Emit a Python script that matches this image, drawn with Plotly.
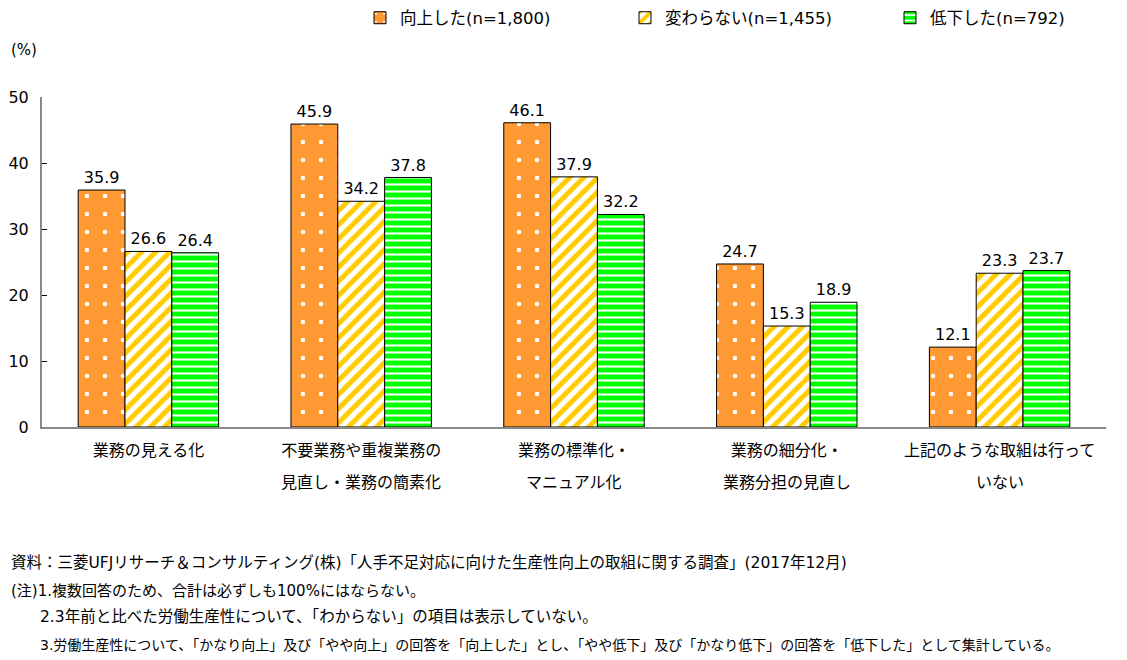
import plotly.graph_objects as go

categories = ["業務の見える化", "不要業務や重複業務の見直し・業務の簡素化", "業務の標準化・マニュアル化",
              "業務の細分化・業務分担の見直し", "上記のような取組は行っていない"]
label_line1 = ["業務の見える化", "不要業務や重複業務の", "業務の標準化・", "業務の細分化・", "上記のような取組は行って"]
label_line2 = ["", "見直し・業務の簡素化", "マニュアル化", "業務分担の見直し", "いない"]
series_names = ["向上した(n=1,800)", "変わらない(n=1,455)", "低下した(n=792)"]
improved = [35.9, 45.9, 46.1, 24.7, 12.1]
unchanged = [26.6, 34.2, 37.9, 15.3, 23.3]
declined = [26.4, 37.8, 32.2, 18.9, 23.7]
y_ticks = [0, 10, 20, 30, 40, 50]

notes = [
    "資料：三菱UFJリサーチ＆コンサルティング(株)「人手不足対応に向けた生産性向上の取組に関する調査」(2017年12月)",
    "(注)1.複数回答のため、合計は必ずしも100%にはならない。",
    "2.3年前と比べた労働生産性について、「わからない」の項目は表示していない。",
    "3.労働生産性について、「かなり向上」及び「やや向上」の回答を「向上した」とし、「やや低下」及び「かなり低下」の回答を「低下した」として集計している。",
]

FONT = "'DejaVu Sans', 'Noto Sans CJK JP', sans-serif"

styles = [
    dict(bg="#FF9933", fg="#FFFFFF", shape=".", size=18, solidity=0.05),
    dict(bg="#FFFFFF", fg="#FFCC00", shape="/", size=10, solidity=0.5),
    dict(bg="#00FF00", fg="#FFFFFF", shape="-", size=7, solidity=0.3),
]

fig = go.Figure()
for name, vals, st in zip(series_names, [improved, unchanged, declined], styles):
    fig.add_trace(go.Bar(
        name=name, x=categories, y=vals,
        text=[f"{v:.1f}" for v in vals], textposition="outside",
        textfont=dict(size=16, color="#000000", family=FONT),
        cliponaxis=False,
        marker=dict(color=st["bg"], line=dict(color="#000000", width=1),
                    pattern=dict(shape=st["shape"], fillmode="replace", bgcolor=st["bg"],
                                 fgcolor=st["fg"], size=st["size"], solidity=st["solidity"])),
    ))

# page offset (body margin) of 8px is compensated in the margins
fig.update_layout(
    width=1127, height=660,
    margin=dict(l=34, r=29, t=89, b=241, autoexpand=False),
    paper_bgcolor="white", plot_bgcolor="white",
    barmode="group", bargap=0.34, bargroupgap=0,
    font=dict(family=FONT, size=15, color="#000000"),
    showlegend=True,
    legend=dict(orientation="h", x=(360 - 8) / 1127, y=1 - (18 - 8) / 660, xref="container", yref="container",
                xanchor="left", yanchor="middle",
                font=dict(size=16.5), traceorder="normal", itemwidth=30,
                entrywidth=220, entrywidthmode="pixels"),
    xaxis=dict(type="category", categoryarray=categories, range=[-0.5, 4.5],
               tickvals=categories, ticktext=label_line1,
               showline=True, linecolor="#888888", linewidth=2, ticks="", automargin=False,
               tickfont=dict(size=16), showgrid=False, ticklabelstandoff=8),
    yaxis=dict(range=[0, 50], tickvals=y_ticks, showline=True, linecolor="#888888", linewidth=2,
               ticks="inside", ticklen=5, tickcolor="#000000", tickwidth=1, showgrid=False, zeroline=False,
               tickfont=dict(size=16), automargin=False, ticklabelstandoff=8),
)

# second line of the category labels
for cat, l2 in zip(categories, label_line2):
    if l2:
        fig.add_annotation(text=l2, xref="x", yref="paper", x=cat, y=(427 - 482) / 330,
                           xanchor="center", yanchor="middle", showarrow=False,
                           font=dict(size=16))

fig.add_annotation(text="(%)", xref="paper", yref="paper", x=(9 - 42) / 1064, y=(427 - 50) / 330,
                   xanchor="left", yanchor="middle", showarrow=False, font=dict(size=15))

note_y = [563, 591, 617, 645]
note_x = [9, 9, 38, 38]
note_size = [15.5, 15, 15.5, 14]
for t, py, px, fs in zip(notes, note_y, note_x, note_size):
    fig.add_annotation(text=t, xref="paper", yref="paper",
                       x=(px - 42) / 1064, y=(427 - py) / 330,
                       xanchor="left", yanchor="middle", showarrow=False,
                       font=dict(size=fs))

fig.write_html("out.html")
